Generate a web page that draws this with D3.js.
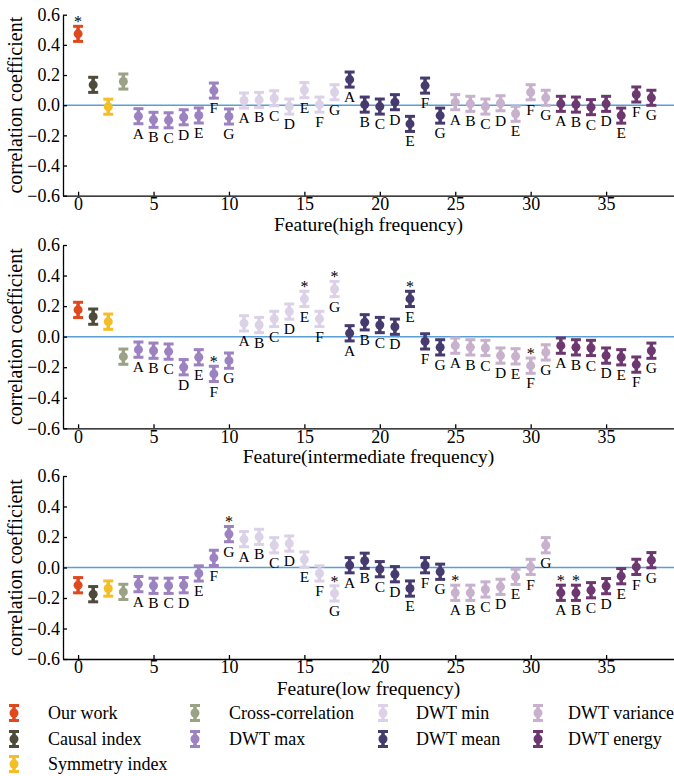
<!DOCTYPE html>
<html>
<head>
<meta charset="utf-8">
<script src="https://cdn.jsdelivr.net/npm/d3@7"></script>
<style>
  body { margin: 0; background: #fff; }
  svg { display: block; }
  svg text { font-family: "Liberation Serif", "DejaVu Serif", serif; }
</style>
</head>
<body>
<div id="chart"></div>
<script>
// methods and their colours (feature 0-3 single, 4-38 DWT groups of 7 levels A-G)
const methods = ["Our work", "Causal index", "Symmetry index", "Cross-correlation",
  "DWT max", "DWT min", "DWT mean", "DWT variance", "DWT energy"];
const methodColors = ["#e0481e", "#4e4b3a", "#f4be27", "#9ca285",
  "#9c82c0", "#dcd2e8", "#463b6e", "#c7b1cd", "#6d3870"];
const levels = ["A", "B", "C", "D", "E", "F", "G"];

const highVals = [0.473, 0.135, -0.01, 0.157,
  -0.073, -0.097, -0.10, -0.08, -0.068, 0.097, -0.075,
  0.031, 0.035, 0.046, -0.009, 0.10, 0.004, 0.086,
  0.17, 0.004, -0.009, 0.02, -0.124, 0.13, -0.069,
  0.02, 0.009, -0.009, 0.013, -0.057, 0.086, 0.049,
  0.009, 0.004, -0.013, 0.009, -0.069, 0.071, 0.049];
const midVals = [0.175, 0.131, 0.098, -0.131,
  -0.085, -0.092, -0.098, -0.20, -0.135, -0.244, -0.157,
  0.087, 0.076, 0.116, 0.164, 0.247, 0.116, 0.312,
  0.022, 0.094, 0.076, 0.065, 0.247, -0.031, -0.07,
  -0.059, -0.07, -0.074, -0.124, -0.129, -0.19, -0.103,
  -0.059, -0.07, -0.074, -0.124, -0.135, -0.183, -0.092];
const lowVals = [-0.116, -0.175, -0.138, -0.16,
  -0.109, -0.12, -0.12, -0.116, -0.039, 0.063, 0.219,
  0.186, 0.201, 0.146, 0.157, 0.052, -0.039, -0.17,
  0.015, 0.044, -0.011, -0.044, -0.138, 0.015, -0.028,
  -0.166, -0.166, -0.144, -0.127, -0.061, 0.004, 0.146,
  -0.166, -0.166, -0.149, -0.122, -0.057, 0.004, 0.048];
const highStars = [0];
const midStars = [9, 15, 17, 22, 30];
const lowStars = [10, 17, 25, 32, 33];
const errHalf = 0.05;

const yTicks = [-0.6, -0.4, -0.2, 0.0, 0.2, 0.4, 0.6];
const xTicks = [0, 5, 10, 15, 20, 25, 30, 35];

const width = 674, height = 776;
const xLeft = 63, xRight = 674;
const serif = "'Liberation Serif', 'DejaVu Serif', serif";

const panels = [
  { title: "Feature(high frequency)", values: highVals, stars: highStars, top: 14.7, bottom: 195.7, titleY: 230.5 },
  { title: "Feature(intermediate frequency)", values: midVals, stars: midStars, top: 245, bottom: 428.3, titleY: 463 },
  { title: "Feature(low frequency)", values: lowVals, stars: lowStars, top: 476, bottom: 659, titleY: 694.5 }
];

function methodOf(i) { return i < 4 ? i : 4 + Math.floor((i - 4) / 7); }
function levelOf(i) { return i < 4 ? "" : levels[(i - 4) % 7]; }

const svg = d3.select("#chart").append("svg")
  .attr("width", width).attr("height", height)
  .attr("font-family", serif);

const x = d3.scaleLinear().domain([-1, 39.5]).range([xLeft, xRight]);

// one error bar glyph centred at (cx, cy), caps at y1 (top) and y2 (bottom)
function drawBar(g, cx, cy, y1, y2, color) {
  g.append("line").attr("x1", cx).attr("x2", cx).attr("y1", y1).attr("y2", y2)
    .attr("stroke", color).attr("stroke-width", 3.5);
  g.append("line").attr("x1", cx - 5).attr("x2", cx + 5).attr("y1", y1).attr("y2", y1)
    .attr("stroke", color).attr("stroke-width", 3);
  g.append("line").attr("x1", cx - 5).attr("x2", cx + 5).attr("y1", y2).attr("y2", y2)
    .attr("stroke", color).attr("stroke-width", 3);
  g.append("circle").attr("cx", cx).attr("cy", cy).attr("r", 4.5).attr("fill", color);
}

panels.forEach(p => {
  const y = d3.scaleLinear().domain([-0.6, 0.6]).range([p.bottom, p.top]);
  const g = svg.append("g");

  // zero line
  g.append("line")
    .attr("x1", xLeft).attr("x2", xRight)
    .attr("y1", y(0)).attr("y2", y(0))
    .attr("stroke", "#5a9fd4").attr("stroke-width", 1.5);

  // y axis
  g.append("g")
    .attr("transform", `translate(${xLeft},0)`)
    .call(d3.axisLeft(y).tickValues(yTicks).tickFormat(d3.format(".1f"))
      .tickSizeInner(-4).tickSizeOuter(0).tickPadding(3))
    .attr("font-family", serif)
    .call(a => a.select(".domain").attr("stroke-width", 1.3))
    .call(a => a.selectAll(".tick line").attr("stroke-width", 1.3))
    .call(a => a.selectAll(".tick text").attr("font-size", 18).attr("fill", "#000"));

  // x axis
  g.append("g")
    .attr("transform", `translate(0,${p.bottom})`)
    .call(d3.axisBottom(x).tickValues(xTicks).tickSizeInner(-4).tickSizeOuter(0).tickPadding(1.5))
    .attr("font-family", serif)
    .call(a => a.select(".domain").attr("stroke-width", 1.3))
    .call(a => a.selectAll(".tick line").attr("stroke-width", 1.3))
    .call(a => a.selectAll(".tick text").attr("font-size", 18).attr("fill", "#000"));

  // axis titles
  g.append("text")
    .attr("x", (xLeft + xRight) / 2).attr("y", p.titleY)
    .attr("text-anchor", "middle").attr("font-size", 19.5)
    .text(p.title);
  g.append("text")
    .attr("transform", `translate(21.5,${(p.top + p.bottom) / 2}) rotate(-90)`)
    .attr("text-anchor", "middle").attr("font-size", 20)
    .text("correlation coefficient");

  // error bars with level letters and significance stars
  p.values.forEach((v, i) => {
    const cx = x(i);
    const color = methodColors[methodOf(i)];
    const y1 = y(v + errHalf), y2 = y(v - errHalf);
    drawBar(g, cx, y(v), y1, y2, color);
    const lv = levelOf(i);
    if (lv) {
      g.append("text").attr("x", cx).attr("y", y2 + 15)
        .attr("text-anchor", "middle").attr("font-size", 15.5).attr("fill", "#000")
        .text(lv);
    }
    if (p.stars.includes(i)) {
      g.append("text").attr("x", cx).attr("y", y1 + 1)
        .attr("text-anchor", "middle").attr("font-size", 16).attr("fill", "#000")
        .text("*");
    }
  });
});

// legend
const legendCols = [
  { icon: 14, text: 48, items: [0, 1, 2] },
  { icon: 195, text: 229, items: [3, 4] },
  { icon: 383, text: 416, items: [5, 6] },
  { icon: 538, text: 568, items: [7, 8] }
];
const legendRows = [713, 739, 764];
const legend = svg.append("g");
legendCols.forEach(c => {
  c.items.forEach((m, r) => {
    const cy = legendRows[r];
    drawBar(legend, c.icon, cy, cy - 7.5, cy + 7.5, methodColors[m]);
    legend.append("text").attr("x", c.text).attr("y", cy + 6)
      .attr("font-size", 18).attr("fill", "#000").text(methods[m]);
  });
});
</script>
</body>
</html>
